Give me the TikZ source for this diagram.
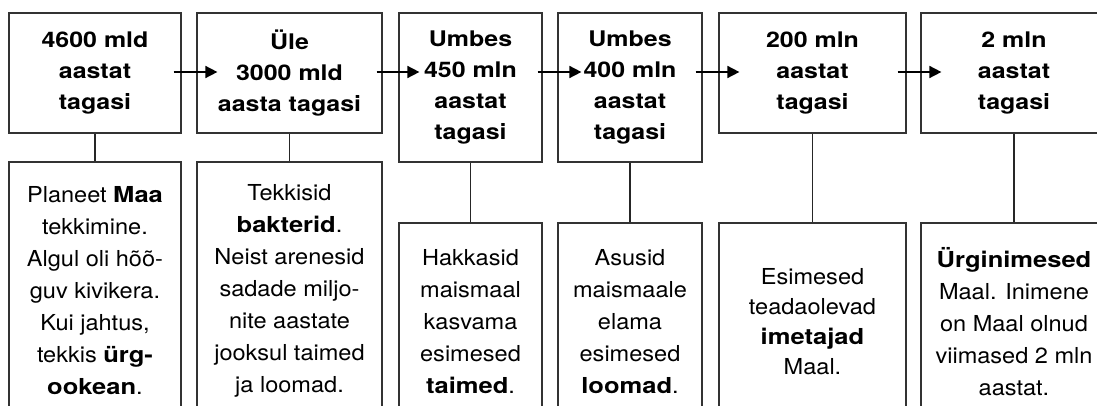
\documentclass[tikz,border=0pt]{standalone}
\usepackage{fontspec}
\setmainfont{TeX Gyre Heros}[FakeStretch=1.07, BoldFeatures={FakeStretch=1.16}]
\usetikzlibrary{arrows.meta,calc}

\tikzset{
  box/.style={draw=black!80, line width=1.2pt, inner sep=0pt, align=center},
  era/.style={box, font=\fontsize{21.5}{31}\selectfont\bfseries},
  fact/.style={box, font=\fontsize{22}{32}\selectfont},
  link/.style={draw=black!85, line width=1.2pt},
  flow/.style={line width=1.6pt, -{Triangle[length=12pt,width=12pt]}}
}

\begin{document}
\begin{tikzpicture}[x=1pt,y=-1pt]
\useasboundingbox (0,0) rectangle (1097,406);
\clip (0,0) rectangle (1097,406);
\fill[white] (0,0) rectangle (1097,406);

% time labels
\node[era, minimum width=172pt, minimum height=120pt] (t1) at (95,73)
  {4600 mld\\aastat\\tagasi};
\node[era, minimum width=185pt, minimum height=120pt] (t2) at (289.5,73)
  {Üle\\3000 mld\\aasta tagasi};
\node[era, minimum width=143pt, minimum height=149pt] (t3) at (470.5,87.5)
  {Umbes\\450 mln\\aastat\\tagasi};
\node[era, minimum width=144pt, minimum height=149pt] (t4) at (630,87.5)
  {Umbes\\400 mln\\aastat\\tagasi};
\node[era, minimum width=187pt, minimum height=120pt] (t5) at (812.5,73)
  {200 mln\\aastat\\tagasi};
\node[era, minimum width=186pt, minimum height=120pt] (t6) at (1014,73)
  {2 mln\\aastat\\tagasi};

% descriptions
\node[fact, minimum width=172pt, minimum height=258pt] (b1) at (95,291)
  {Planeet \textbf{Maa}\\tekkimine.\\Algul oli hõõ-\\guv kivikera.\\Kui jahtus,\\tekkis \textbf{ürg-}\\\textbf{ookean}.};
\node[fact, minimum width=185pt, minimum height=258pt] (b2) at (289.5,291)
  {Tekkisid\\\textbf{bakterid}.\\Neist arenesid\\sadade miljo-\\nite aastate\\jooksul taimed\\ja loomad.};
\node[fact, minimum width=143pt, minimum height=197pt] (b3) at (470.5,321.5)
  {Hakkasid\\maismaal\\kasvama\\esimesed\\\textbf{taimed}.};
\node[fact, minimum width=144pt, minimum height=197pt] (b4) at (630,321.5)
  {Asusid\\maismaale\\elama\\esimesed\\\textbf{loomad}.};
\node[fact, minimum width=187pt, minimum height=197pt, font=\fontsize{22}{30}\selectfont] (b5) at (812.5,321.5)
  {Esimesed\\teadaolevad\\\textbf{imetajad}\\Maal.};
\node[fact, minimum width=186pt, minimum height=197pt] (b6) at (1014,321.5)
  {\textbf{Ürginimesed}\\Maal. Inimene\\on Maal olnud\\viimased 2 mln\\aastat.};

% vertical links
\foreach \i in {1,...,6} {
  \draw[link] (t\i.south) -- (b\i.north);
}

% timeline arrows, all on the level of the first row's middle line
\draw[flow] ([xshift=-8pt,yshift=1pt]t1.east) -- ([xshift=21pt,yshift=1pt]t2.west);
\draw[flow] ([xshift=-6pt,yshift=1pt]t2.east) -- ([xshift=21pt,yshift=1pt]t3.west |- t2.east);
\draw[flow] ([xshift=-5pt,yshift=1pt]t3.east |- t2.east) -- ([xshift=24pt,yshift=1pt]t4.west |- t2.east);
\draw[flow] ([xshift=-7pt,yshift=1pt]t4.east |- t2.east) -- ([xshift=21pt,yshift=1pt]t5.west);
\draw[flow] ([xshift=-9pt,yshift=1pt]t5.east) -- ([xshift=21pt,yshift=1pt]t6.west);
\end{tikzpicture}
\end{document}
